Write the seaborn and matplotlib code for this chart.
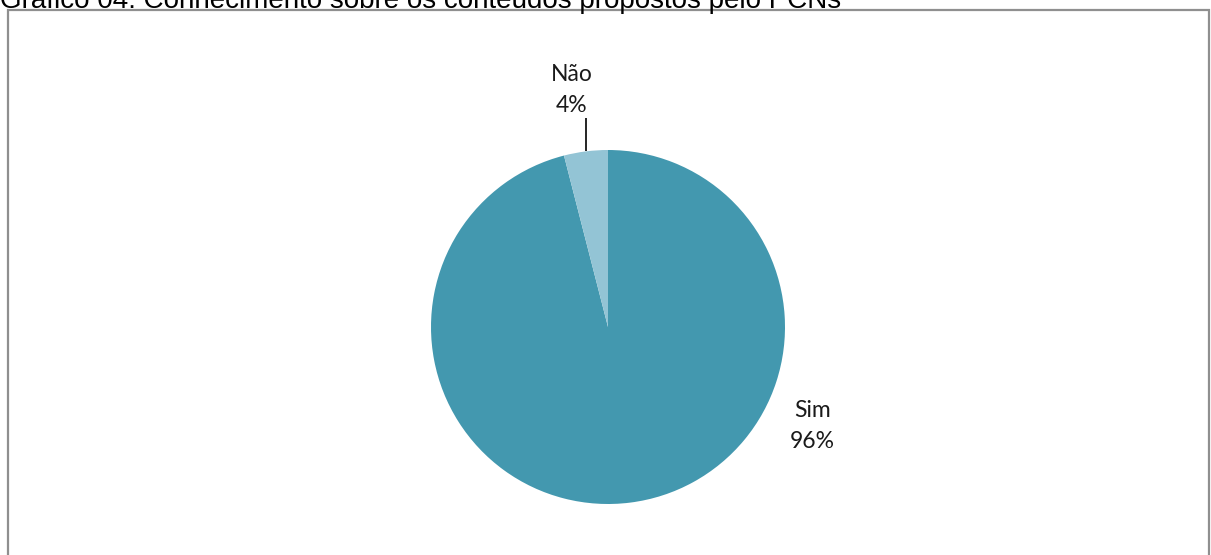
import matplotlib
matplotlib.use("Agg")
import matplotlib.pyplot as plt
import seaborn as sns
import numpy as np
from matplotlib.patches import Rectangle

# Survey answers
categories = ["Sim", "Não"]
shares = [96, 4]
colors = ["#4398AF", "#93C4D5"]
title = "Gráfico 04: Conhecimento sobre os conteúdos propostos pelo PCNs"

sns.set_theme(style="white")
plt.rcParams["font.family"] = ["Lato", "DejaVu Sans"]

W, H = 1211, 555
fig = plt.figure(figsize=(W / 100, H / 100), dpi=100)
fig.patch.set_facecolor("white")

# Chart frame
fig.patches.append(Rectangle((7.5 / W, -0.05), (1208.5 - 7.5) / W, 1.05 - 9.5 / H,
                             transform=fig.transFigure, fill=False,
                             edgecolor="#8f8f8f", linewidth=1.6))

# Caption (partially cut at the top edge)
fig.text(0 / W, 1 - 8 / H, title, ha="left", va="baseline",
         fontsize=20, family=["Liberation Sans", "DejaVu Sans"], color="black")

cx, cy, r = 608, 327, 177
ax = fig.add_axes([(cx - r) / W, (H - cy - r) / H, 2 * r / W, 2 * r / H])
wedges, _ = ax.pie(shares, colors=colors, startangle=90, counterclock=False,
                   wedgeprops=dict(linewidth=0))
ax.set_xlim(-1, 1)
ax.set_ylim(-1, 1)
ax.set_aspect("equal")
ax.axis("off")

total = sum(shares)
label_kw = dict(ha="center", va="baseline", fontsize=16.5, color="#1a1a1a")
line_gap = 0.175  # distance between the two label lines, in radii

# "Não" sits above its slice with a vertical leader line
w_nao = wedges[1]
mid = np.deg2rad((w_nao.theta1 + w_nao.theta2) / 2)
px, py = np.cos(mid), np.sin(mid)
ax.plot([px, px], [py, 1.18], color="black", lw=1.2, clip_on=False,
        solid_capstyle="butt")
nx, ny = px - 0.08, 1.215
ax.text(nx, ny + line_gap, categories[1], **label_kw)
ax.text(nx, ny, f"{shares[1] * 100 // total}%", **label_kw)

# "Sim" sits to the right of the pie
sx, sy = 1.153, -0.684
ax.text(sx, sy + line_gap, categories[0], **label_kw)
ax.text(sx, sy, f"{shares[0] * 100 // total}%", **label_kw)

fig.savefig("out.png", dpi=100, facecolor="white")
